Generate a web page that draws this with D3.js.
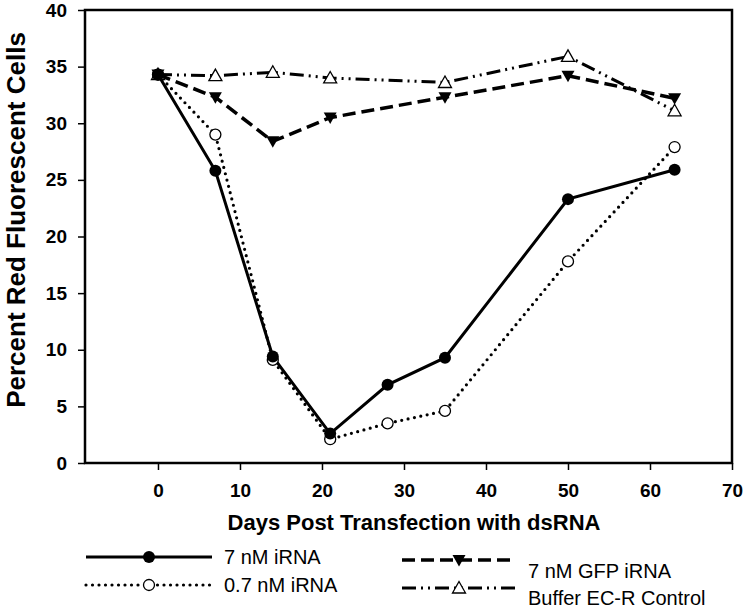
<!DOCTYPE html>
<html><head><meta charset="utf-8">
<script src="https://cdn.jsdelivr.net/npm/d3@7"></script>
<style>body{margin:0;background:#fff}svg{display:block}text{font-family:Arial,"Liberation Sans",sans-serif}</style>
</head><body><svg id="c" width="750" height="609"></svg>
<script>
const days = [0, 7, 14, 21, 28, 35, 50, 63];
const iRNA7 = [34.3, 25.8, 9.4, 2.6, 6.9, 9.3, 23.3, 25.9];
const iRNA07 = [34.3, 29.0, 9.1, 2.1, 3.5, 4.6, 17.8, 27.9];
const gfpDays = [0, 7, 14, 21, 35, 50, 63];
const gfp7 = [34.3, 32.3, 28.4, 30.5, 32.3, 34.2, 32.2];
const bufDays = [0, 7, 14, 21, 35, 50, 63];
const buffer = [34.3, 34.2, 34.5, 34.0, 33.6, 35.9, 31.1];
const xTicks = [0, 10, 20, 30, 40, 50, 60, 70];
const yTicks = [0, 5, 10, 15, 20, 25, 30, 35, 40];
const seriesNames = ["7 nM iRNA", "0.7 nM iRNA", "7 nM GFP iRNA", "Buffer EC-R Control"];

const svg = d3.select("#c");
const x = d3.scaleLinear().domain([-8.9, 70]).range([85, 732]);
const y = d3.scaleLinear().domain([0, 40]).range([463, 10]);

// axes
const xa = svg.append("g").attr("transform","translate(0,463)")
  .call(d3.axisBottom(x).tickValues(xTicks).tickSize(7).tickSizeOuter(0).tickPadding(14));
const ya = svg.append("g").attr("transform","translate(85,0)")
  .call(d3.axisLeft(y).tickValues(yTicks).tickSize(7).tickSizeOuter(0).tickPadding(11));
[xa, ya].forEach(g => {
  g.select(".domain").remove();
  g.selectAll("line").attr("stroke","#000").attr("stroke-width",1.5);
  g.selectAll("text").attr("font-size",19).attr("font-weight","bold").attr("fill","#000");
});
// frame
svg.append("rect").attr("x",x(-8.9)).attr("y",y(40)).attr("width",x(70)-x(-8.9)).attr("height",y(0)-y(40))
  .attr("fill","none").attr("stroke","#000").attr("stroke-width",2.5);

// titles
svg.append("text").attr("x",414).attr("y",530).attr("text-anchor","middle")
  .attr("font-size",22).attr("font-weight","bold").text("Days Post Transfection with dsRNA");
svg.append("text").attr("transform","translate(25,220) rotate(-90)").attr("text-anchor","middle")
  .attr("font-size",26).attr("font-weight","bold").text("Percent Red Fluorescent Cells");

const styles = [
  {dash:null, w:3, cap:"butt", marker:"fill"},
  {dash:"0,6.5", w:3.2, cap:"round", marker:"open"},
  {dash:"13,6", w:3.5, cap:"butt", marker:"down"},
  {dash:"14,5,2,5,2,5", w:3, cap:"butt", marker:"up"}
];
const data = [
  days.map((d,i)=>[d, iRNA7[i]]),
  days.map((d,i)=>[d, iRNA07[i]]),
  gfpDays.map((d,i)=>[d, gfp7[i]]),
  bufDays.map((d,i)=>[d, buffer[i]])
];
const line = d3.line().x(d=>x(d[0])).y(d=>y(d[1]));

function marker(g, type, cx, cy){
  if(type==="fill") g.append("circle").attr("cx",cx).attr("cy",cy).attr("r",6).attr("fill","#000");
  else if(type==="open") g.append("circle").attr("cx",cx).attr("cy",cy).attr("r",5.5).attr("fill","#fff").attr("stroke","#000").attr("stroke-width",1.3);
  else if(type==="down") g.append("path").attr("d",`M${cx-6.5},${cy-5}L${cx+6.5},${cy-5}L${cx},${cy+6.5}Z`).attr("fill","#000");
  else g.append("path").attr("d",`M${cx-6.5},${cy+5}L${cx+6.5},${cy+5}L${cx},${cy-6.5}Z`).attr("fill","#fff").attr("stroke","#000").attr("stroke-width",1.3);
}

const order = [3,2,1,0];
order.forEach(k=>{
  const s = styles[k];
  svg.append("path").datum(data[k]).attr("d",line).attr("fill","none").attr("stroke","#000")
    .attr("stroke-width",s.w).attr("stroke-dasharray",s.dash).attr("stroke-linecap",s.cap);
});
order.forEach(k=>{
  const g = svg.append("g");
  data[k].forEach(p=>marker(g, styles[k].marker, x(p[0]), y(p[1])));
});

// legend
const leg = [
  {lx1:86, lx2:212, ly:557, tx:224, ty:564},
  {lx1:86, lx2:212, ly:585, tx:224, ty:592},
  {lx1:402, lx2:516, ly:560, tx:528, ty:578},
  {lx1:402, lx2:516, ly:588, tx:528, ty:605}
];
leg.forEach((l,k)=>{
  const s = styles[k];
  svg.append("line").attr("x1",l.lx1).attr("x2",l.lx2).attr("y1",l.ly).attr("y2",l.ly)
    .attr("stroke","#000").attr("stroke-width",s.w).attr("stroke-dasharray",s.dash).attr("stroke-linecap",s.cap);
  const g = svg.append("g");
  marker(g, s.marker, (l.lx1+l.lx2)/2, l.ly);
  svg.append("text").attr("x",l.tx).attr("y",l.ty).attr("font-size",20).text(seriesNames[k]);
});
</script></body></html>
